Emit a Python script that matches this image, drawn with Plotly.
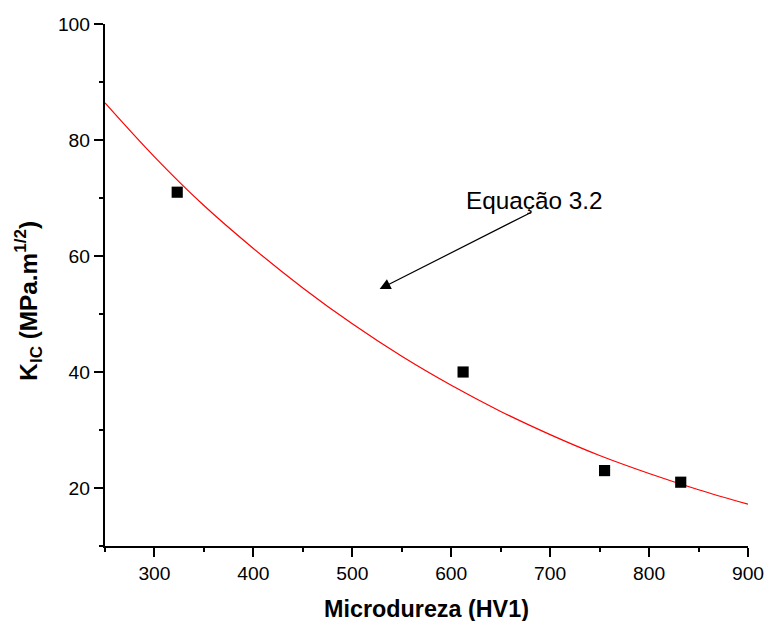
import plotly.graph_objects as go

# Measured points
hardness = [323, 612, 755, 832]
kic = [71, 40, 23, 21]

# Fitted curve (Equação 3.2)
curve_x = [250, 300, 350, 400, 450, 500, 550, 600, 650, 700, 750, 800, 850, 900]
curve_y = [86.4, 77.1, 68.7, 61.3, 54.5, 48.3, 42.7, 37.7, 33.2, 29.2, 25.6, 22.5, 19.7, 17.2]

FONT = "Liberation Sans, Arial, sans-serif"
S = 1.0142  # compensation for the slight down-scaling seen in the photographed page

fig = go.Figure()
fig.add_trace(go.Scatter(x=curve_x, y=curve_y, mode="lines", line=dict(color="#ff0000", width=1.2 * S, shape="spline"),
                         showlegend=False, hoverinfo="skip"))
fig.add_trace(go.Scatter(x=hardness, y=kic, mode="markers",
                         marker=dict(symbol="square", size=11 * S, color="black"), showlegend=False))

fig.add_annotation(x=527.6, y=54.3, ax=681.6, ay=67.6, xref="x", yref="y", axref="x", ayref="y",
                   text="", showarrow=True, arrowhead=2, arrowsize=1.8, arrowwidth=1.2 * S, arrowcolor="black")
fig.add_annotation(x=684, y=69.5, xref="x", yref="y", text="Equação 3.2", showarrow=False,
                   font=dict(family=FONT, size=24 * S, color="black"))

# y-axis title (rotated text, centred slightly below the plot middle as in the original)
fig.add_annotation(x=0, y=0.47, xref="paper", yref="paper", xanchor="center", yanchor="middle",
                   xshift=-77, textangle=-90, showarrow=False,
                   text="<b>K<sub>IC</sub> (MPa.m<sup>1/2</sup>)</b>",
                   font=dict(family=FONT, size=24 * S, color="black"))

axis_common = dict(showline=True, linewidth=2 * S, linecolor="black", showgrid=False, zeroline=False,
                   ticks="outside", ticklen=9 * S, tickwidth=2 * S, tickcolor="black",
                   tickfont=dict(family=FONT, size=19 * S, color="black"))

fig.update_xaxes(range=[250, 900], tick0=0, dtick=100,
                 minor=dict(ticks="outside", dtick=50, tick0=0, ticklen=4 * S, tickwidth=2 * S, tickcolor="black"),
                 title=dict(text="<b>Microdureza (HV1)</b>", font=dict(family=FONT, size=23 * S, color="black"), standoff=17),
                 **axis_common)
fig.update_yaxes(range=[10, 100], tick0=0, dtick=20,
                 minor=dict(ticks="outside", dtick=10, tick0=0, ticklen=4 * S, tickwidth=2 * S, tickcolor="black"),
                 **axis_common)

fig.update_layout(width=round(765 * S), height=round(621 * S),
                  margin=dict(l=104 * S, r=18 * S, t=24 * S, b=68),
                  plot_bgcolor="white", paper_bgcolor="white", font=dict(family=FONT))

fig.write_html("out.html", config={"displayModeBar": False},
               post_script="document.body.style.margin='0';document.body.style.overflow='hidden';")
